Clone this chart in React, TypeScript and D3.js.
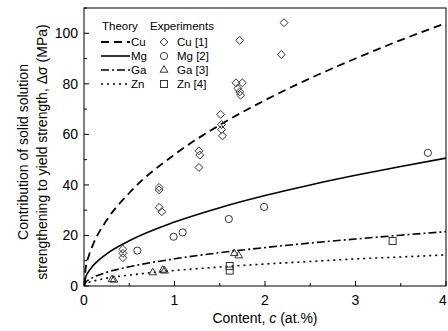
import React from 'react';
import * as d3 from 'd3';

// theory curves at these contents
const curveC = [0, 0.02, 0.05, 0.1, 0.25, 0.5, 1, 1.5, 2, 2.5, 3, 3.5, 4];
const cuTheory = [0, 7.4, 11.6, 16.4, 26, 36.8, 52, 63.7, 73.5, 82.2, 90, 97.3, 104];
const mgTheory = [0, 3.6, 5.7, 8, 12.7, 17.9, 25.3, 31, 35.8, 40, 43.8, 47.3, 50.6];
const gaTheory = [0, 1.5, 2.4, 3.4, 5.4, 7.6, 10.75, 13.2, 15.2, 17, 18.6, 20.1, 21.5];
const znTheory = [0, 0.9, 1.4, 1.9, 3.1, 4.3, 6.15, 7.5, 8.7, 9.7, 10.7, 11.5, 12.3];

// experiments
const cuExpC = [0.43, 0.43, 0.43, 0.83, 0.83, 0.83, 0.86, 1.27, 1.28, 1.27, 1.51, 1.52, 1.52, 1.53, 1.68, 1.75, 1.7, 1.72, 1.73, 1.72, 2.18, 2.21];
const cuExpV = [14.5, 12.9, 11.2, 39, 38, 31.1, 29.4, 53.5, 51.8, 46.9, 67.9, 63.9, 61.9, 59.4, 80.4, 80.4, 78.2, 76.8, 75.5, 97.2, 91.6, 104.2];
const mgExpC = [0.59, 0.99, 1.09, 1.6, 1.99, 3.8];
const mgExpV = [14, 19.5, 21.2, 26.5, 31.3, 52.7];
const gaExpC = [0.31, 0.33, 0.76, 0.87, 0.89, 1.66, 1.71];
const gaExpV = [2.6, 2.4, 5.3, 6.3, 6.0, 12.9, 12.0];
const znExpC = [1.61, 1.61, 3.41];
const znExpV = [7.9, 6.1, 17.8];

const xTicks = [0, 1, 2, 3, 4];
const yTicks = [0, 20, 40, 60, 80, 100];

const W = 448, H = 331;
const L = 84, R = 446, T = 8, B = 286;
const font = 'Arial, "Liberation Sans", sans-serif';

const x = d3.scaleLinear().domain([0, 4]).range([L, R]);
const y = d3.scaleLinear().domain([0, 110]).range([B, T]);

const theory = [
  { name: 'Cu', vals: cuTheory, dash: '8,5', sw: 1.8 },
  { name: 'Mg', vals: mgTheory, dash: null, sw: 1.6 },
  { name: 'Ga', vals: gaTheory, dash: '8,3,2,3', sw: 1.6 },
  { name: 'Zn', vals: znTheory, dash: '2,4', sw: 1.6 },
];

const marker = (kind: string, cx: number, cy: number, key: string) => {
  const p = { fill: 'none', stroke: '#333', strokeWidth: 1 };
  if (kind === 'diamond') {
    const s = d3.symbol().type(d3.symbolDiamond2).size(40)();
    return <path key={key} d={s || ''} transform={`translate(${cx},${cy})`} {...p} />;
  }
  if (kind === 'circle') return <circle key={key} cx={cx} cy={cy} r={3.6} {...p} />;
  if (kind === 'triangle') {
    const s = d3.symbol().type(d3.symbolTriangle2).size(42)();
    return <path key={key} d={s || ''} transform={`translate(${cx},${cy})`} {...p} />;
  }
  return <rect key={key} x={cx - 3.5} y={cy - 3.5} width={7} height={7} {...p} />;
};

const experiments = [
  { name: 'Cu [1]', kind: 'diamond', cs: cuExpC, vs: cuExpV },
  { name: 'Mg [2]', kind: 'circle', cs: mgExpC, vs: mgExpV },
  { name: 'Ga [3]', kind: 'triangle', cs: gaExpC, vs: gaExpV },
  { name: 'Zn [4]', kind: 'square', cs: znExpC, vs: znExpV },
];

const App = () => {
  const line = d3.line<number>()
    .x((d, i) => x(curveC[i]))
    .y(d => y(d))
    .curve(d3.curveMonotoneX);

  const xMinor = d3.range(0, 4.01, 0.5);
  const yMinor = d3.range(0, 110.1, 10);

  return (
    <svg width={W} height={H} style={{ position: 'absolute', left: 0, top: 0 }} fontFamily={font}>
      <rect width={W} height={H} fill="#fff" />
      <defs>
        <clipPath id="plot"><rect x={L} y={T} width={R - L} height={B - T} /></clipPath>
      </defs>

      {/* ticks, inward */}
      {xMinor.map(t => (
        <line key={'xm' + t} x1={x(t)} x2={x(t)} y1={B} y2={B - (t % 1 === 0 ? 5 : 3)} stroke="#000" />
      ))}
      {yMinor.map(t => (
        <line key={'ym' + t} x1={L} x2={L + (t % 20 === 0 ? 5 : 3)} y1={y(t)} y2={y(t)} stroke="#000" />
      ))}
      {xTicks.map(t => (
        <text key={'xt' + t} x={Math.min(x(t), W - 5)} y={B + 19} fontSize={14} textAnchor="middle">{t}</text>
      ))}
      {yTicks.map(t => (
        <text key={'yt' + t} x={L - 6} y={y(t) + 5} fontSize={14} textAnchor="end">{t}</text>
      ))}

      <g clipPath="url(#plot)">
        {theory.map(s => (
          <path key={s.name} d={line(s.vals) || ''} fill="none" stroke="#000"
            strokeWidth={s.sw} strokeDasharray={s.dash || undefined} />
        ))}
        {experiments.map(e => e.cs.map((c, i) => marker(e.kind, x(c), y(e.vs[i]), e.name + i)))}
      </g>

      <rect x={L} y={T} width={R - L} height={B - T} fill="none" stroke="#000" strokeWidth={1} />

      {/* legend */}
      <text x={102} y={30} fontSize={11.5}>Theory</text>
      <text x={150} y={30} fontSize={11.5}>Experiments</text>
      {theory.map((s, i) => {
        const ly = 42 + i * 14;
        return (
          <g key={'lt' + s.name}>
            <line x1={101} x2={130} y1={ly} y2={ly} stroke="#000" strokeWidth={s.sw}
              strokeDasharray={s.dash || undefined} />
            <text x={131} y={ly + 4} fontSize={11.5}>{s.name}</text>
          </g>
        );
      })}
      {experiments.map((e, i) => {
        const ly = 42 + i * 14;
        return (
          <g key={'le' + e.name}>
            {marker(e.kind, 164, ly, 'lm' + i)}
            <text x={177} y={ly + 4} fontSize={11.5}>{e.name}</text>
          </g>
        );
      })}

      {/* axis titles */}
      <text x={265} y={323} fontSize={14} textAnchor="middle">
        Content, <tspan fontStyle="italic">c</tspan> (at.%)
      </text>
      <g transform="translate(28,152) rotate(-90)">
        <text x={0} y={0} fontSize={14} textAnchor="middle">Contribution of solid solution</text>
        <text x={0} y={19} fontSize={14} textAnchor="middle">strengthening to yield strength, Δσ (MPa)</text>
      </g>
    </svg>
  );
};

export default App;
